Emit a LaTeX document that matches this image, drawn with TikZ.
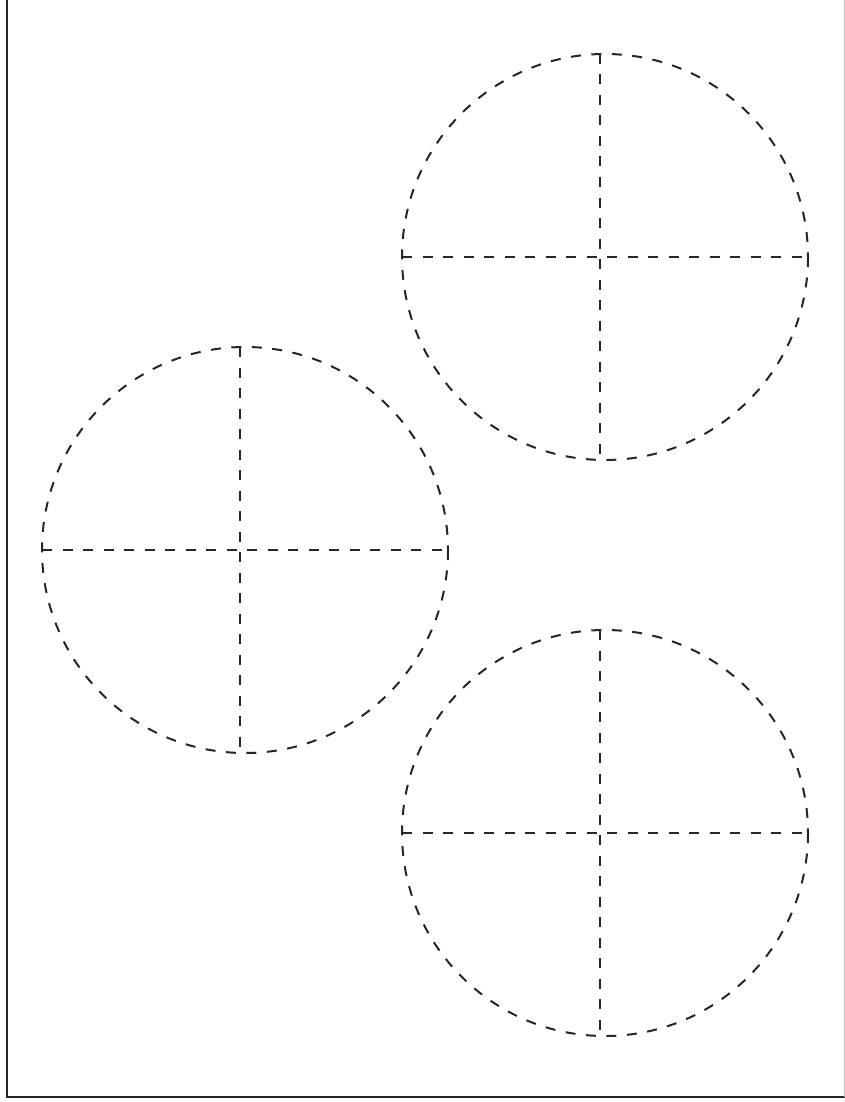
\documentclass[tikz,border=0pt]{standalone}
\usetikzlibrary{positioning}

\begin{document}
\begin{tikzpicture}[
    x=1pt, y=-1pt,
    frame/.style={line width=2.4pt, draw=black!85},
    guide/.style={line width=2pt, draw=black!85, dash pattern=on 10pt off 10.5pt}
]
\useasboundingbox (0,0) rectangle (845,1102);
% page frame (left and bottom only)
\coordinate (topleft)  at (6.7,0);
\coordinate (botleft)  at (6.7,1097);
\coordinate (botright) at (845,1097);
\coordinate (topright) at (844.5,0);
\draw[frame] (topleft) -- (botleft) -- (botright);
\draw[line width=0.8pt, draw=black!25] (topright) -- (844.5,1097);
% three dashed circles with cross-hairs (cross sits 5pt left of the circle centre)
\foreach \name/\cx/\cy in {upper/605/257, left/245/550, lower/605/833}{
    \coordinate (\name) at (\cx,\cy);
    \draw[guide] (\name) circle[radius=203];
    \draw[guide] ([xshift=-203pt]\name) -- ([xshift=203pt]\name);
    \draw[guide] ([xshift=-5pt,yshift=203pt]\name) -- ([xshift=-5pt,yshift=-203pt]\name);
}
\end{tikzpicture}
\end{document}
